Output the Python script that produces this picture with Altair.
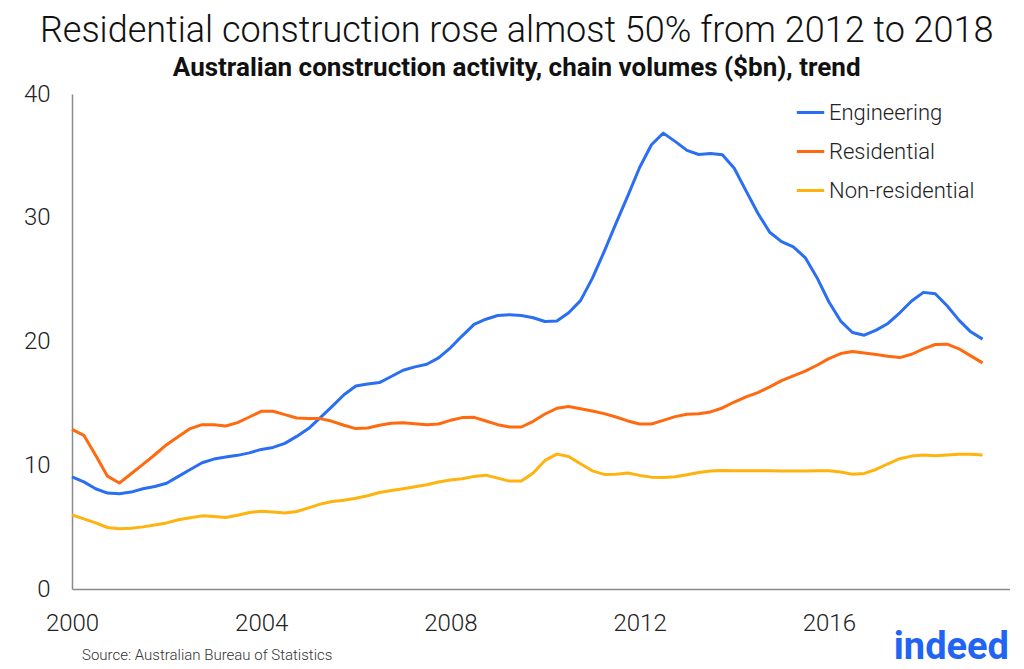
import altair as alt
import pandas as pd

# Quarterly, 2000 Q1 onward
start_year = 2000
series_names = ["Engineering", "Residential", "Non-residential"]
series_colors = ["#2A6EF2", "#FF6A10", "#FFB30F"]

engineering = [
    9.07, 8.66, 8.10, 7.75, 7.69, 7.83, 8.10, 8.28, 8.55, 9.10,
    9.66, 10.20, 10.50, 10.66, 10.80, 11.00, 11.28, 11.44, 11.77, 12.33,
    12.96, 13.85, 14.76, 15.70, 16.41, 16.57, 16.68, 17.17, 17.68, 17.95,
    18.16, 18.68, 19.49, 20.46, 21.38, 21.80, 22.10, 22.16, 22.10, 21.92,
    21.62, 21.65, 22.32, 23.30, 25.10, 27.26, 29.55, 31.77, 34.06, 35.90,
    36.84, 36.17, 35.44, 35.11, 35.19, 35.09, 34.00, 32.17, 30.36, 28.83,
    28.07, 27.64, 26.78, 25.16, 23.21, 21.65, 20.73, 20.51, 20.92, 21.46,
    22.32, 23.27, 23.97, 23.86, 22.89, 21.73, 20.78, 20.19,
]
residential = [
    12.90, 12.42, 10.80, 9.12, 8.56, 9.31, 10.07, 10.85, 11.66, 12.33,
    12.96, 13.28, 13.28, 13.17, 13.44, 13.90, 14.36, 14.36, 14.09, 13.82,
    13.77, 13.77, 13.55, 13.23, 12.96, 13.01, 13.23, 13.39, 13.44, 13.36,
    13.28, 13.33, 13.63, 13.85, 13.87, 13.58, 13.28, 13.09, 13.09, 13.55,
    14.14, 14.60, 14.74, 14.57, 14.39, 14.17, 13.90, 13.58, 13.33, 13.33,
    13.63, 13.93, 14.12, 14.17, 14.31, 14.63, 15.11, 15.52, 15.87, 16.33,
    16.84, 17.22, 17.60, 18.08, 18.62, 19.03, 19.19, 19.08, 18.95, 18.81,
    18.70, 18.97, 19.41, 19.76, 19.78, 19.41, 18.84, 18.27,
]
non_residential = [
    5.99, 5.67, 5.34, 4.97, 4.86, 4.91, 5.02, 5.18, 5.34, 5.59,
    5.75, 5.91, 5.86, 5.78, 5.96, 6.18, 6.29, 6.23, 6.15, 6.26,
    6.56, 6.86, 7.07, 7.18, 7.34, 7.53, 7.80, 7.96, 8.10, 8.26,
    8.42, 8.64, 8.80, 8.91, 9.10, 9.20, 8.96, 8.72, 8.72, 9.37,
    10.39, 10.90, 10.71, 10.12, 9.55, 9.26, 9.28, 9.37, 9.18, 9.04,
    9.01, 9.07, 9.23, 9.42, 9.53, 9.58, 9.56, 9.56, 9.56, 9.56,
    9.53, 9.53, 9.53, 9.56, 9.56, 9.45, 9.28, 9.34, 9.66, 10.12,
    10.53, 10.74, 10.82, 10.77, 10.82, 10.88, 10.88, 10.82,
]
x_ticks = [2000, 2004, 2008, 2012, 2016]
y_ticks = [0, 10, 20, 30, 40]

rows = []
for name, vals in zip(series_names, [engineering, residential, non_residential]):
    for i, v in enumerate(vals):
        rows.append({"t": start_year + i / 4.0, "value": v, "series": name})
df = pd.DataFrame(rows)

FONT = "Roboto"

lines = alt.Chart(df).mark_line(strokeWidth=3, strokeJoin="round").encode(
    x=alt.X("t:Q", scale=alt.Scale(domain=[2000, 2019.83], nice=False, zero=False),
            axis=alt.Axis(values=x_ticks, format="d", title=None, grid=False, ticks=False,
                          labelFontSize=24, labelFont=FONT, labelFontWeight=300,
                          labelColor="#222222", labelPadding=22, labelFlush=False,
                          domainColor="#8a8a8a", domainWidth=1.5)),
    y=alt.Y("value:Q", scale=alt.Scale(domain=[0, 40], nice=False),
            axis=alt.Axis(values=y_ticks, title=None, grid=False, ticks=False,
                          labelFontSize=24, labelFont=FONT, labelFontWeight=300,
                          labelColor="#222222", labelPadding=22,
                          domainColor="#8a8a8a", domainWidth=1.5)),
    color=alt.Color("series:N", sort=series_names,
                    scale=alt.Scale(domain=series_names, range=series_colors),
                    legend=alt.Legend(title=None, orient="none", legendX=723, legendY=3,
                                      symbolType="stroke", symbolSize=750, symbolStrokeWidth=3,
                                      labelFontSize=22, labelFont=FONT, labelFontWeight=300,
                                      labelColor="#222222", rowPadding=12, labelOffset=3)),
    order=alt.Order("t:Q"),
)

source = alt.Chart(pd.DataFrame({"txt": ["Source: Australian Bureau of Statistics"]})).mark_text(
    align="left", baseline="middle", fontSize=15, font=FONT, fontWeight=300, color="#333333"
).encode(x=alt.value(10), y=alt.value(561), text="txt:N")

logo = alt.Chart(pd.DataFrame({"txt": ["indeed"]})).mark_text(
    align="right", baseline="middle", fontSize=38, font=FONT, fontWeight="bold", color="#2164F3"
).encode(x=alt.value(937), y=alt.value(554), text="txt:N")

chart = alt.layer(lines, source, logo).properties(
    width=938, height=495,
    title=alt.TitleParams(
        text="Residential construction rose almost 50% from 2012 to 2018",
        subtitle="Australian construction activity, chain volumes ($bn), trend",
        font=FONT, fontSize=36, fontWeight=300, color="#111111",
        subtitleFont=FONT, subtitleFontSize=26, subtitleFontWeight="bold",
        subtitleColor="#111111", subtitlePadding=5,
        anchor="middle", frame="bounds", offset=0,
    ),
    padding={"left": 15, "top": 5, "right": 0, "bottom": 5},
).configure_view(stroke=None)

chart.save("out.html", embed_options={"renderer": "svg", "actions": False})
